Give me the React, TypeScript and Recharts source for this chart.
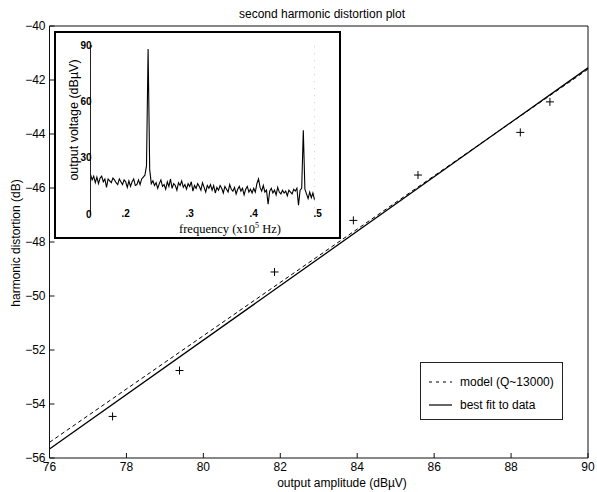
import React from 'react'
import { ComposedChart, LineChart, Line, Scatter, XAxis, YAxis } from 'recharts'

// main plot: measured points + the two straight lines
const ampTicks = [76, 78, 80, 82, 84, 86, 88, 90]
const dbTicks = [-56, -54, -52, -50, -48, -46, -44, -42, -40]

const measuredAmp = [77.64, 79.38, 81.85, 83.9, 85.58, 88.24, 89.01]
const measuredDb = [-54.46, -52.76, -49.11, -47.2, -45.52, -43.94, -42.81]

const lineAmp = [76, 90]
const fitDb = [-55.67, -41.55]
const modelDb = [-55.42, -41.6]

// inset spectrum
const freqTicks = [0.2, 0.3, 0.4, 0.5]
const voltTicks = [0, 30, 60, 90]

const freq = [
  0.15, 0.1525, 0.155, 0.1575, 0.16, 0.1625, 0.165, 0.1675, 0.17, 0.1725,
  0.175, 0.1775, 0.18, 0.1825, 0.185, 0.1875, 0.19, 0.1925, 0.195, 0.1975,
  0.2, 0.2025, 0.205, 0.2075, 0.21, 0.2125, 0.215, 0.2175, 0.22, 0.2225,
  0.225, 0.2275, 0.23, 0.2325, 0.235, 0.2375, 0.24, 0.2425, 0.245, 0.2475,
  0.25, 0.2525, 0.255, 0.2575, 0.26, 0.2625, 0.265, 0.2675, 0.27, 0.2725,
  0.275, 0.2775, 0.28, 0.2825, 0.285, 0.2875, 0.29, 0.2925, 0.295, 0.2975,
  0.3, 0.3025, 0.305, 0.3075, 0.31, 0.3125, 0.315, 0.3175, 0.32, 0.3225,
  0.325, 0.3275, 0.33, 0.3325, 0.335, 0.3375, 0.34, 0.3425, 0.345, 0.3475,
  0.35, 0.3525, 0.355, 0.3575, 0.36, 0.3625, 0.365, 0.3675, 0.37, 0.3725,
  0.375, 0.3775, 0.38, 0.3825, 0.385, 0.3875, 0.39, 0.3925, 0.395, 0.3975,
  0.4, 0.4025, 0.405, 0.4075, 0.41, 0.4125, 0.415, 0.4175, 0.42, 0.4225,
  0.425, 0.4275, 0.43, 0.4325, 0.435, 0.4375, 0.44, 0.4425, 0.445, 0.4475,
  0.45, 0.4525, 0.455, 0.4575, 0.46, 0.4625, 0.465, 0.4675, 0.47, 0.4725,
  0.475, 0.4775, 0.48, 0.4825, 0.485, 0.4875, 0.49, 0.4925, 0.495, 0.4975,
  0.5,
]

const volt = [
  21.5, 18.5, 20.5, 17.0, 20.0, 16.5, 19.5, 20.5, 17.5, 19.0,
  14.5, 19.0, 18.0, 17.0, 19.5, 18.5, 17.0, 16.0, 19.0, 17.5,
  16.0, 18.5, 17.5, 14.5, 18.0, 15.0, 17.5, 19.0, 15.5, 16.0,
  18.5, 16.0, 19.0, 20.0, 21.0, 26.0, 88.5, 24.0, 16.5, 18.0,
  15.5, 17.0, 14.0, 16.5, 18.5, 15.0, 16.0, 13.5, 17.5, 15.0,
  19.0, 14.0, 16.5, 15.5, 13.0, 17.0, 15.5, 18.0, 14.5, 16.0,
  13.5, 16.5, 15.0, 17.5, 12.5, 15.5, 14.0, 16.5, 15.0, 13.0,
  17.0, 14.5, 12.0, 15.5, 14.0, 16.0, 13.0, 15.5, 11.5, 14.5,
  13.0, 15.5, 14.0, 11.5, 15.0, 13.5, 12.0, 16.0, 13.5, 12.5,
  14.5, 11.0, 13.5, 15.0, 12.5, 14.0, 10.5, 13.5, 15.0, 12.0,
  13.5, 11.5, 14.0, 12.0, 16.5, 19.0, 14.5, 12.5, 15.5, 12.0,
  13.0, 5.5, 12.5, 14.0, 11.5, 13.0, 10.5, 14.5, 12.0, 11.0,
  13.0, 11.5, 12.5, 10.0, 13.0, 12.0, 11.0, 13.5, 12.5, 14.0,
  5.0, 13.0, 14.0, 45.0, 13.5, 11.0, 8.5, 12.0, 9.0, 11.5,
  8.0,
]

const SANS = '"Liberation Sans", Arial, Helvetica, sans-serif'
const SERIF = '"Liberation Serif", "Times New Roman", serif'

const measured = measuredAmp.map((amp, i) => ({ amp, db: measuredDb[i] }))
const fitLine = lineAmp.map((amp, i) => ({ amp, db: fitDb[i] }))
const modelLine = lineAmp.map((amp, i) => ({ amp, db: modelDb[i] }))
const spectrum = freq.map((f, i) => ({ f, v: volt[i] }))

const minus = (v: number) => (v < 0 ? '\u2212' + Math.abs(v) : String(v))

// MATLAB style: ticks point into the box, labels outside
const BottomTick = ({ x, y, payload }: any) => (
  <g>
    <line x1={x} y1={y} x2={x} y2={y - 5} stroke="#111" />
    <text x={x} y={y + 13} textAnchor="middle" fontSize={12} fontFamily={SANS} fill="#000">
      {payload.value}
    </text>
  </g>
)
const TopTick = ({ x, y }: any) => <line x1={x} y1={y} x2={x} y2={y + 5} stroke="#111" />
const LeftTick = ({ x, y, payload }: any) => (
  <g>
    <line x1={x} y1={y} x2={x + 5} y2={y} stroke="#111" />
    <text x={x - 4} y={y + 4} textAnchor="end" fontSize={12} fontFamily={SANS} fill="#000">
      {minus(payload.value)}
    </text>
  </g>
)
const RightTick = ({ x, y }: any) => <line x1={x} y1={y} x2={x - 5} y2={y} stroke="#111" />

const PlusMark = ({ cx, cy }: any) => (
  <g stroke="#000" strokeWidth={1}>
    <line x1={cx - 4} y1={cy} x2={cx + 4} y2={cy} />
    <line x1={cx} y1={cy - 4} x2={cx} y2={cy + 4} />
  </g>
)

// inset ticks
const InsetBottomTick = ({ x, y, payload }: any) => (
  <text x={x - 1} y={y + 2} textAnchor="start" fontSize={10} fontWeight="bold" fontFamily={SANS} fill="#000">
    {payload.value.toFixed(1).replace(/^0/, '')}
  </text>
)
const InsetLeftTick = ({ x, y, payload }: any) => (
  <text x={x + 1} y={y + 3} textAnchor="end" fontSize={10} fontWeight="bold" fontFamily={SANS} fill="#000">
    {payload.value}
  </text>
)
const InsetDot = ({ x, y }: any) => <rect x={x - 0.5} y={y - 1} width={1.5} height={2} fill="#555" />

function Inset() {
  return (
    <div
      style={{
        position: 'absolute',
        left: 54,
        top: 31,
        width: 287,
        height: 208,
        border: '2.5px solid #000',
        boxSizing: 'border-box',
        background: '#fff',
      }}
    >
      <LineChart width={282} height={203} data={spectrum} margin={{ top: 12.2, right: 22.5, bottom: 20.5, left: 33.5 }}>
        <XAxis
          dataKey="f"
          type="number"
          domain={[0.15, 0.5]}
          ticks={freqTicks}
          axisLine={false}
          tickLine={false}
          tickSize={0}
          tickMargin={0}
          height={1}
          interval={0}
          tick={<InsetBottomTick />}
        />
        <XAxis
          xAxisId="top"
          orientation="top"
          type="number"
          domain={[0.15, 0.5]}
          ticks={[0.2, 0.3, 0.4]}
          axisLine={false}
          tickLine={false}
          tickSize={0}
          tickMargin={0}
          height={1}
          interval={0}
          tick={<InsetDot />}
        />
        <YAxis
          type="number"
          domain={[0, 90]}
          ticks={voltTicks}
          axisLine={{ stroke: '#222', strokeWidth: 1 }}
          tickLine={false}
          tickSize={0}
          tickMargin={0}
          width={1}
          interval={0}
          tick={<InsetLeftTick />}
        />
        <YAxis
          yAxisId="right"
          orientation="right"
          type="number"
          domain={[0, 90]}
          ticks={[30, 60]}
          axisLine={{ stroke: '#ccc', strokeDasharray: '1 6' }}
          tickLine={false}
          tickSize={0}
          tickMargin={0}
          width={1}
          interval={0}
          tick={<InsetDot />}
        />
        <Line
          type="linear"
          dataKey="v"
          stroke="#000"
          strokeWidth={1.1}
          dot={false}
          isAnimationActive={false}
        />
        <text
          transform="translate(22,87) rotate(-90)"
          textAnchor="middle"
          fontSize={12.5}
          fontFamily={SANS}
          fill="#000"
        >
          output voltage (dBµV)
        </text>
        <text x={174} y={200} textAnchor="middle" fontSize={12.5} fontFamily={SERIF} fill="#000">
          frequency (x10<tspan dy={-5} fontSize={8}>5</tspan>
          <tspan dy={5}> Hz)</tspan>
        </text>
      </LineChart>
    </div>
  )
}

function LegendBox() {
  const row = (top: number, dash: string | undefined, label: string) => (
    <div style={{ position: 'absolute', left: 0, top, height: 14, width: '100%' }}>
      <svg width={40} height={14} style={{ position: 'absolute', left: 0, top: 0 }}>
        <line x1={8} y1={7} x2={31} y2={7} stroke="#000" strokeWidth={1.2} strokeDasharray={dash} />
      </svg>
      <span
        style={{
          position: 'absolute',
          left: 39,
          top: -1,
          fontFamily: SANS,
          fontSize: 12,
          lineHeight: '16px',
          whiteSpace: 'nowrap',
          color: '#000',
        }}
      >
        {label}
      </span>
    </div>
  )
  return (
    <div
      style={{
        position: 'absolute',
        left: 420,
        top: 362,
        width: 143,
        height: 58,
        border: '1px solid #222',
        boxSizing: 'border-box',
        background: '#fff',
      }}
    >
      {row(12, '3 4', 'model (Q~13000)')}
      {row(35, undefined, 'best fit to data')}
    </div>
  )
}

export default function App() {
  return (
    <div style={{ position: 'absolute', left: 0, top: 0, width: 597, height: 492, background: '#fff' }}>
      <ComposedChart width={597} height={492} margin={{ top: 25, right: 8, bottom: 33, left: 48.5 }}>
        <XAxis
          dataKey="amp"
          type="number"
          domain={[76, 90]}
          ticks={ampTicks}
          interval={0}
          axisLine={{ stroke: '#111' }}
          tickLine={false}
          tickSize={0}
          tickMargin={0}
          height={1}
          tick={<BottomTick />}
        />
        <XAxis
          xAxisId="top"
          orientation="top"
          type="number"
          domain={[76, 90]}
          ticks={ampTicks}
          interval={0}
          axisLine={{ stroke: '#111' }}
          tickLine={false}
          tickSize={0}
          tickMargin={0}
          height={1}
          tick={<TopTick />}
        />
        <YAxis
          dataKey="db"
          type="number"
          domain={[-56, -40]}
          ticks={dbTicks}
          interval={0}
          axisLine={{ stroke: '#111' }}
          tickLine={false}
          tickSize={0}
          tickMargin={0}
          width={1}
          tick={<LeftTick />}
        />
        <YAxis
          yAxisId="right"
          orientation="right"
          type="number"
          domain={[-56, -40]}
          ticks={dbTicks}
          interval={0}
          axisLine={{ stroke: '#111' }}
          tickLine={false}
          tickSize={0}
          tickMargin={0}
          width={1}
          tick={<RightTick />}
        />
        <Line
          data={modelLine}
          dataKey="db"
          type="linear"
          stroke="#000"
          strokeWidth={1}
          strokeDasharray="4 3"
          dot={false}
          isAnimationActive={false}
        />
        <Line
          data={fitLine}
          dataKey="db"
          type="linear"
          stroke="#000"
          strokeWidth={1.3}
          dot={false}
          isAnimationActive={false}
        />
        <Scatter data={measured} dataKey="db" shape={<PlusMark />} isAnimationActive={false} />
        <text x={322} y={18} textAnchor="middle" fontSize={12} fontFamily={SANS} fill="#000">
          second harmonic distortion plot
        </text>
        <text x={342} y={487} textAnchor="middle" fontSize={12} fontFamily={SANS} fill="#000">
          output amplitude (dBµV)
        </text>
        <text transform="translate(20,243) rotate(-90)" textAnchor="middle" fontSize={12} fontFamily={SANS} fill="#000">
          harmonic distortion (dB)
        </text>
      </ComposedChart>
      <Inset />
      <LegendBox />
    </div>
  )
}
